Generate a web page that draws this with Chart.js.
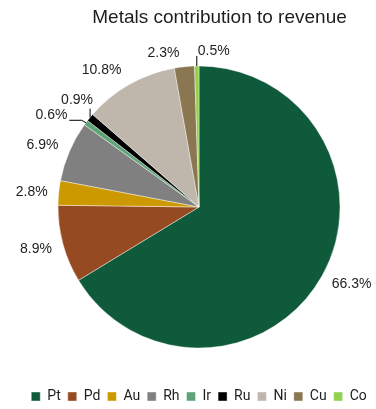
<!DOCTYPE html>
<html>
<head>
<meta charset="utf-8">
<title>Metals contribution to revenue</title>
<script src="https://cdn.jsdelivr.net/npm/chart.js@4.4.0/dist/chart.umd.min.js"></script>
<style>
  html, body { margin: 0; padding: 0; background: #fff; }
</style>
</head>
<body>
<canvas id="revenueChart" width="376" height="409"></canvas>
<script>
// Revenue share by metal, %
const metals = ['Pt', 'Pd', 'Au', 'Rh', 'Ir', 'Ru', 'Ni', 'Cu', 'Co'];
const shares = [66.3, 8.9, 2.8, 6.9, 0.6, 0.9, 10.8, 2.3, 0.5];

const metalColors = ['#0f5a3b', '#964a22', '#cc9a00', '#808080', '#5ea477', '#000000', '#bfb7ac', '#8a7752', '#92d050'];

// label placement relative to the outer edge of each slice (middle angle)
const labelOffsets = [[29.6, 7.9], [-27, 5], [-27, -1], [-27, -6.5], [-34.5, -8], [-13, -17], [-28, -14], [-21, -14], [17, -15]];
// leader lines for the thin slices: points relative to slice edge
const leaderLines = {
    4: [[-4.3, -2.4], [-16.7, -2.4]],
    5: [[0, -8.8]],
    8: [[0, -10]]
};

const titlePlugin = {
    id: 'chartTitle',
    afterDraw(chart) {
        const ctx = chart.ctx;
        ctx.save();
        ctx.font = '19px "Liberation Sans", Arial, sans-serif';
        ctx.fillStyle = '#1e1e1e';
        ctx.textAlign = 'center';
        ctx.textBaseline = 'alphabetic';
        ctx.fillText('Metals contribution to revenue', 219.5, 22.7);
        ctx.restore();
    }
};

const sliceLabels = {
    id: 'sliceLabels',
    afterDatasetsDraw(chart) {
        const ctx = chart.ctx;
        const meta = chart.getDatasetMeta(0);
        ctx.save();
        ctx.font = '14px "Liberation Sans", Arial, sans-serif';
        ctx.fillStyle = '#1e1e1e';
        ctx.textAlign = 'center';
        ctx.textBaseline = 'middle';
        meta.data.forEach((arc, i) => {
            const p = arc.getProps(['x', 'y', 'startAngle', 'endAngle', 'outerRadius'], true);
            const mid = (p.startAngle + p.endAngle) / 2;
            const ex = p.x + Math.cos(mid) * p.outerRadius;
            const ey = p.y + Math.sin(mid) * p.outerRadius;

            if (leaderLines[i]) {
                ctx.beginPath();
                ctx.moveTo(ex, ey);
                leaderLines[i].forEach(pt => ctx.lineTo(ex + pt[0], ey + pt[1]));
                ctx.strokeStyle = '#000';
                ctx.lineWidth = 1;
                ctx.stroke();
            }

            const [dx, dy] = labelOffsets[i];
            ctx.fillText(shares[i].toFixed(1) + '%', ex + dx, ey + dy);
        });
        ctx.restore();
    }
};

const ctx = document.getElementById('revenueChart').getContext('2d');
const revenueChart = new Chart(ctx, {
    type: 'pie',
    data: {
        labels: metals,
        datasets: [{
            data: shares,
            backgroundColor: metalColors,
            borderColor: 'rgba(255, 255, 255, 0.7)',
            borderWidth: 0.6,
            radius: 141
        }]
    },
    options: {
        responsive: false,
        animation: false,
        layout: {
            padding: { left: 22, right: 0, top: 31.5, bottom: -4.5 }
        },
        plugins: {
            title: { display: false },
            tooltip: { enabled: false },
            legend: {
                position: 'bottom',
                labels: {
                    boxWidth: 9,
                    boxHeight: 9,
                    padding: 7,
                    color: '#1e1e1e',
                    font: { family: 'Roboto, "Noto Sans", sans-serif', size: 14 }
                }
            }
        }
    },
    plugins: [titlePlugin, sliceLabels]
});
</script>
</body>
</html>
